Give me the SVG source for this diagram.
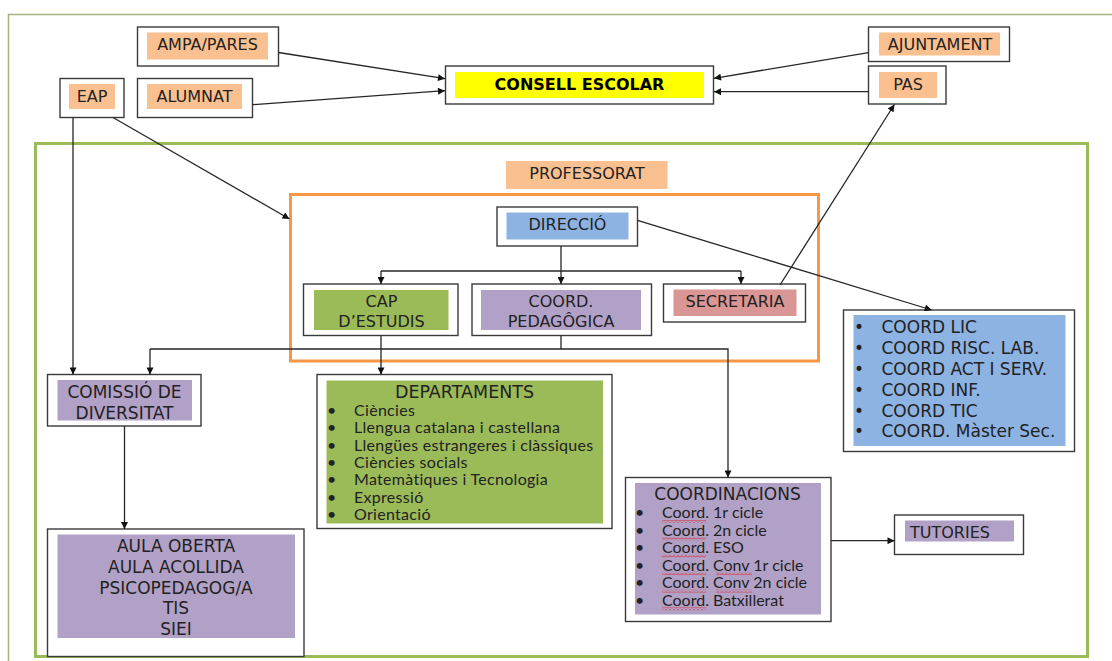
<svg xmlns="http://www.w3.org/2000/svg" width="1112" height="661" viewBox="0 0 1112 661">
<style>
.box{fill:#fff;stroke:#3a3a3a;stroke-width:1.4}
.peach{fill:#FAC090}
.yellow{fill:#FFFF00}
.blue{fill:#8DB3E2}
.green{fill:#9BBB59}
.purple{fill:#B2A1C7}
.rose{fill:#D99694}
.t{font-family:"DejaVu Sans",Verdana,sans-serif;font-size:16px;fill:#222}
.m{font-size:17px}
.c{text-anchor:middle}
.b{font-weight:bold;fill:#000}
.l{font-family:Lato,"Open Sans",sans-serif;font-size:16px;fill:#222}
.dl{letter-spacing:0.3px}
.con{fill:none;stroke:#262626;stroke-width:1.3}
.wv{fill:url(#wave)}
</style>
<defs>
<marker id="ah" viewBox="0 0 10 10" refX="10" refY="5" markerWidth="8" markerHeight="7" markerUnits="userSpaceOnUse" orient="auto">
<path d="M0,0 L10,5 L0,10 z" fill="#111"/>
</marker>
<pattern id="wave" patternUnits="userSpaceOnUse" x="0" y="0" width="4" height="3">
<path d="M0,2.5 L2,0.5 L4,2.5" fill="none" stroke="#e02020" stroke-width="0.9"/>
</pattern>
</defs>
<rect width="1112" height="661" fill="#fff"/>
<g id="frames">
<path d="M8.5,661 V14.5 H1112" fill="none" stroke="#A3B47F" stroke-width="1.5"/>
<rect x="35.5" y="143.5" width="1052" height="513" fill="none" stroke="#9BBB59" stroke-width="3"/>
<rect x="290.5" y="194.5" width="528" height="166.5" fill="none" stroke="#F79646" stroke-width="3"/>
</g>
<g id="ampa"><rect class="box" x="137.5" y="27" width="141" height="39"/><rect class="peach" x="147" y="32.5" width="121" height="27"/><text class="t c" x="207.5" y="49.5">AMPA/PARES</text></g>
<g id="eap"><rect class="box" x="60" y="78.5" width="64" height="39"/><rect class="peach" x="69" y="84" width="46" height="25"/><text class="t c" x="92" y="101.5">EAP</text></g>
<g id="alumnat"><rect class="box" x="137.5" y="78.5" width="115" height="39"/><rect class="peach" x="147" y="84" width="95" height="25"/><text class="t c" x="194.5" y="101.5">ALUMNAT</text></g>
<g id="consell"><rect class="box" x="445.5" y="66" width="268" height="38"/><rect class="yellow" x="455" y="72" width="249" height="26"/><text class="t c b" x="579.5" y="89.5">CONSELL ESCOLAR</text></g>
<g id="ajuntament"><rect class="box" x="868.5" y="27" width="141" height="34.5"/><rect class="peach" x="879" y="32.5" width="121" height="23"/><text class="t c" x="940" y="50">AJUNTAMENT</text></g>
<g id="pas"><rect class="box" x="868.5" y="66" width="77.5" height="38"/><rect class="peach" x="879" y="72" width="58" height="26"/><text class="t c" x="908" y="89.5">PAS</text></g>
<g id="professorat"><rect class="peach" x="506" y="161" width="161.5" height="28"/><text class="t c" x="587" y="178.5">PROFESSORAT</text></g>
<g id="direccio"><rect class="box" x="497" y="207" width="140.5" height="39"/><rect class="blue" x="506.5" y="212.5" width="122" height="27"/><text class="t c" x="567.5" y="229.5">DIRECCIÓ</text></g>
<g id="cap"><rect class="box" x="303.5" y="284" width="154.5" height="51.5"/><rect class="green" x="314" y="290" width="134.5" height="40"/><text class="t c" x="381.5" y="306.5">CAP</text><text class="t c" x="381.5" y="326.5">D’ESTUDIS</text></g>
<g id="coordped"><rect class="box" x="472" y="284" width="179.5" height="51.5"/><rect class="purple" x="481" y="290" width="160" height="40"/><text class="t c" x="561" y="306.5">COORD.</text><text class="t c" x="561" y="326.5">PEDAGÔGICA</text></g>
<g id="secretaria"><rect class="box" x="663.5" y="284" width="142" height="38"/><rect class="rose" x="673.5" y="289.5" width="123" height="26.5"/><text class="t c" x="735" y="306.5">SECRETARIA</text></g>
<g id="comissio"><rect class="box" x="47.5" y="374.5" width="153.5" height="51.5"/><rect class="purple" x="57.5" y="380" width="134.5" height="40.5"/><text class="t m c" x="124.5" y="397.5">COMISSIÓ DE</text><text class="t m c" x="124.5" y="418.5">DIVERSITAT</text></g>
<g id="departaments"><rect class="box" x="317" y="374.5" width="295" height="154"/><rect class="green" x="326.5" y="380.5" width="276.5" height="143"/>
<text class="t c" x="464.5" y="398" style="font-size:17.5px">DEPARTAMENTS</text>
<g class="l dl">
<text x="327" y="416">•</text><text x="354" y="416">Ciències</text>
<text x="327" y="433.3">•</text><text x="354" y="433.3">Llengua catalana i castellana</text>
<text x="327" y="450.6">•</text><text x="354" y="450.6">Llengües estrangeres i clàssiques</text>
<text x="327" y="468">•</text><text x="354" y="468">Ciències socials</text>
<text x="327" y="485.3">•</text><text x="354" y="485.3">Matemàtiques i Tecnologia</text>
<text x="327" y="502.6">•</text><text x="354" y="502.6">Expressió</text>
<text x="327" y="520">•</text><text x="354" y="520">Orientació</text>
</g></g>
<g id="aula"><rect class="box" x="47.5" y="529" width="256.5" height="127.5"/><rect class="purple" x="57.5" y="534.5" width="237.5" height="103.5"/>
<text class="t m c" x="176" y="551.5">AULA OBERTA</text>
<text class="t m c" x="176" y="572.5">AULA ACOLLIDA</text>
<text class="t m c" x="176" y="593.5">PSICOPEDAGOG/A</text>
<text class="t m c" x="176" y="614">TIS</text>
<text class="t m c" x="176" y="635">SIEI</text></g>
<g id="coordlic"><rect class="box" x="843.5" y="310" width="231" height="141.5"/><rect class="blue" x="853.5" y="315" width="212" height="131"/>
<g class="t m">
<text x="854" y="333">•</text><text x="881.5" y="333">COORD LIC</text>
<text x="854" y="354">•</text><text x="881.5" y="354">COORD RISC. LAB.</text>
<text x="854" y="374.5">•</text><text x="881.5" y="374.5">COORD ACT I SERV.</text>
<text x="854" y="395.5">•</text><text x="881.5" y="395.5">COORD INF.</text>
<text x="854" y="416.5">•</text><text x="881.5" y="416.5">COORD TIC</text>
<text x="854" y="436.5">•</text><text x="881.5" y="436.5">COORD. Màster Sec.</text>
</g></g>
<g id="coordinacions"><rect class="box" x="625.5" y="477.5" width="205.5" height="144"/><rect class="purple" x="635" y="483" width="186" height="131.5"/>
<text class="t m c" x="727.5" y="500">COORDINACIONS</text>
<g class="l">
<text x="635" y="518.3">•</text><text x="662" y="518.3">Coord. 1r cicle</text>
<text x="635" y="535.7">•</text><text x="662" y="535.7">Coord. 2n cicle</text>
<text x="635" y="553">•</text><text x="662" y="553">Coord. ESO</text>
<text x="635" y="570.5">•</text><text x="662" y="570.5">Coord. Conv 1r cicle</text>
<text x="635" y="588">•</text><text x="662" y="588">Coord. Conv 2n cicle</text>
<text x="635" y="605.5">•</text><text x="662" y="605.5">Coord. Batxillerat</text>
</g>
<rect class="wv" x="662" y="520" width="44" height="3"/>
<rect class="wv" x="662" y="537.4" width="44" height="3"/>
<rect class="wv" x="662" y="554.7" width="44" height="3"/>
<rect class="wv" x="662" y="572.2" width="44" height="3"/>
<rect class="wv" x="716" y="572.2" width="36" height="3"/>
<rect class="wv" x="662" y="589.7" width="44" height="3"/>
<rect class="wv" x="716" y="589.7" width="36" height="3"/>
<rect class="wv" x="662" y="607.2" width="44" height="3"/>
</g>
<g id="tutories"><rect class="box" x="894.5" y="515" width="129" height="39.5"/><rect class="purple" x="905" y="520.5" width="109" height="21"/><text class="t c" x="950" y="538">TUTORIES</text></g>
<g id="connectors" class="con">
<line x1="278.5" y1="52.5" x2="445" y2="78.7" marker-end="url(#ah)"/>
<line x1="252.5" y1="104.7" x2="445" y2="90.7" marker-end="url(#ah)"/>
<line x1="868.5" y1="52.7" x2="714" y2="78.3" marker-end="url(#ah)"/>
<line x1="868.5" y1="91.7" x2="714" y2="91.7" marker-end="url(#ah)"/>
<line x1="780" y1="285" x2="894.4" y2="104.5" marker-end="url(#ah)"/>
<line x1="113" y1="117.5" x2="289.5" y2="219" marker-end="url(#ah)"/>
<line x1="73" y1="117.5" x2="73" y2="374.5" marker-end="url(#ah)"/>
<line x1="637.5" y1="220.3" x2="931.7" y2="310" marker-end="url(#ah)"/>
<line x1="561" y1="246" x2="561" y2="284" marker-end="url(#ah)"/>
<path d="M381,271 H741"/>
<line x1="381" y1="271" x2="381" y2="284" marker-end="url(#ah)"/>
<line x1="741" y1="271" x2="741" y2="284" marker-end="url(#ah)"/>
<line x1="381" y1="335.5" x2="381" y2="374.5" marker-end="url(#ah)"/>
<path d="M561,335.5 V349"/>
<path d="M150,349 H728 V477.5" marker-end="url(#ah)"/>
<line x1="150" y1="349" x2="150" y2="374.5" marker-end="url(#ah)"/>
<line x1="124.5" y1="426" x2="124.5" y2="529" marker-end="url(#ah)"/>
<line x1="831" y1="540.7" x2="894.5" y2="540.7" marker-end="url(#ah)"/>
</g>
</svg>
